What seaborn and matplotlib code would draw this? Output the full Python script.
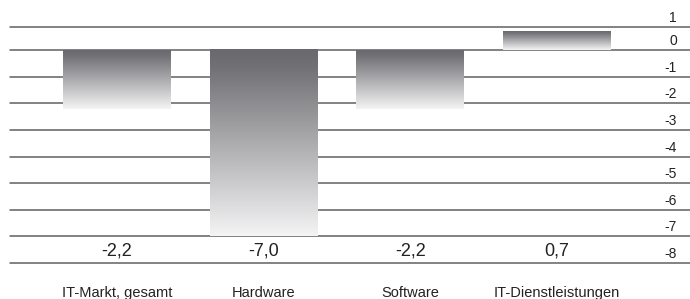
import numpy as np
import seaborn as sns
import matplotlib.pyplot as plt
import matplotlib.transforms as mtransforms
from matplotlib.colors import LinearSegmentedColormap

categories = ["IT-Markt, gesamt", "Hardware", "Software", "IT-Dienstleistungen"]
values = [-2.2, -7.0, -2.2, 0.7]
value_labels = ["-2,2", "-7,0", "-2,2", "0,7"]
ytick_values = [0, -1, -2, -3, -4, -5, -6, -7, -8]
ytick_labels = ["0", "-1", "-2", "-3", "-4", "-5", "-6", "-7", "-8"]
top_value = 0.87
top_label = "1"

sns.set_style("white")
plt.rcParams["font.family"] = ["Liberation Sans Narrow", "Liberation Sans", "DejaVu Sans"]

fig = plt.figure(figsize=(6.9, 2.99), dpi=100)
ax = fig.add_axes([10 / 690, 36 / 299, 680 / 690, 236 / 299])

sns.barplot(x=categories, y=values, color="white", width=0.736, ax=ax, zorder=3)

# gradient fill for each bar, dark on top, light at the bottom
grad_cmap = LinearSegmentedColormap.from_list(
    "bar", [(0, "#68686d"), (0.1, "#727276"), (1, "#f4f4f5")])
grad = np.linspace(0, 1, 256).reshape(-1, 1)
for p in ax.patches:
    x0 = p.get_x()
    x1 = x0 + p.get_width()
    y0 = p.get_y()
    y1 = y0 + p.get_height()
    lo, hi = min(y0, y1), max(y0, y1)
    p.set_facecolor("none")
    p.set_edgecolor("none")
    ax.imshow(grad, extent=(x0, x1, lo, hi), origin="upper", aspect="auto",
              cmap=grad_cmap, zorder=3, interpolation="bilinear")

ax.set_xlim(-0.729, 3.907)
ax.set_ylim(-8, top_value)

for s in ax.spines.values():
    s.set_visible(False)
ax.set_xticks([])
ax.set_yticks([])
ax.set_xlabel("")
ax.set_ylabel("")

# horizontal lines
for v in [top_value] + ytick_values:
    ax.axhline(v, color="#606060", lw=1.1, zorder=2, clip_on=False)

# right side labels, sitting on their lines
trans = mtransforms.blended_transform_factory(ax.transAxes, ax.transData)
trans_up = mtransforms.offset_copy(trans, fig=fig, y=2, units="dots")
ax.text(0.981, top_value, top_label, transform=trans_up, ha="right", va="bottom",
        fontsize=10, color="#222222")
for v, lab in zip(ytick_values, ytick_labels):
    ax.text(0.981, v, lab, transform=trans_up, ha="right", va="bottom",
            fontsize=10, color="#222222")

# value labels above the bottom line
trans_val = mtransforms.offset_copy(ax.transData, fig=fig, y=3, units="dots")
for i, lab in enumerate(value_labels):
    ax.text(i, -8, lab, transform=trans_val, ha="center", va="bottom",
            fontsize=13, color="#222222")

# category names below the chart
for i, cat in enumerate(categories):
    xf = fig.transFigure.inverted().transform(ax.transData.transform((i, 0)))[0]
    fig.text(xf, 2 / 299, cat, ha="center", va="baseline", fontsize=10.5, color="#222222")

fig.savefig("out.png", dpi=100)
